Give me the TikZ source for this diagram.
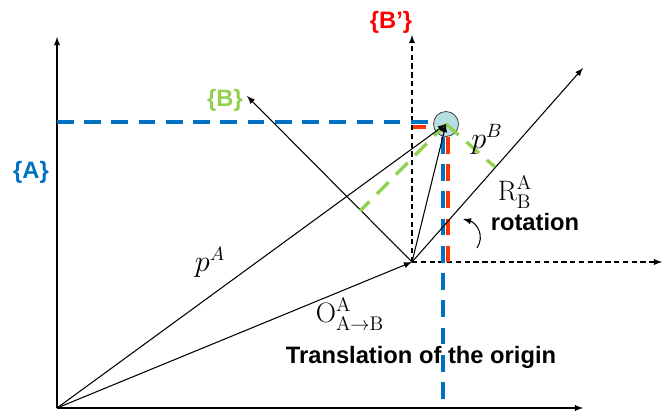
\documentclass[tikz,border=0pt]{standalone}
\usepackage{fontspec}
\setsansfont{Liberation Sans}
\definecolor{frameblue}{HTML}{0070C0}
\definecolor{framegreen}{HTML}{92D050}
\definecolor{framered}{HTML}{FF0000}
\definecolor{projred}{HTML}{FF3300}
\definecolor{pointfill}{HTML}{B7DEE1}
\begin{document}
\begin{tikzpicture}[x=0.02cm, y=-0.02cm,
  every node/.style={font=\sffamily\bfseries},
  vec/.style={-latex, line width=0.6pt},
  ghostaxis/.style={-latex, line width=0.6pt, dash pattern=on 3pt off 2pt},
  projline/.style={line width=1.9pt, dash pattern=on 9.5pt off 6pt},
  framelabel/.style={font=\sffamily\bfseries\fontsize{13.5}{16}\selectfont},
  mathlabel/.style={font=\fontsize{16}{19}\selectfont}]
\useasboundingbox (0,0) rectangle (664,413);
% frame A
\coordinate (oA) at (57,408);
\coordinate (yA) at (57,37);
\coordinate (xA) at (583,408);
\draw[vec] (oA) -- (yA);
\draw[vec] (oA) -- (xA);
\node[framelabel, text=frameblue] (lblA) at (31,172) {\{A\}};
% frame B' (translated only)
\coordinate (oB) at (412,262);
\coordinate (yBp) at (412,35);
\coordinate (xBp) at (662,262);
\draw[ghostaxis] (oB) -- (yBp);
\draw[ghostaxis] (oB) -- (xBp);
\node[framelabel, text=framered] (lblBp) at (391,22) {\{B'\}};
% point
\node[circle, draw=black!80, fill=pointfill, minimum size=0.5cm, inner sep=0pt] (P) at (446,124) {};
% projections on A and B'
\draw[projline, frameblue] (yA |- 0,122) -- (434,122);
\draw[projline, frameblue] (443,137) -- (443,408);
\draw[projline, projred] (413,127) -- (426,127);
\draw[projline, projred] (448,137) -- (448,262);
% frame B (rotated)
\coordinate (yB) at (247,96);
\coordinate (xB) at (583,68);
\draw[vec] (oB) -- (yB);
\draw[vec] (oB) -- (xB);
\node[framelabel, text=framegreen] (lblB) at (225,100) {\{B\}};
\coordinate (footY) at (360,211);
\coordinate (footX) at (495,167);
\draw[projline, framegreen] (P.center) -- (footY);
\draw[projline, framegreen] (P.center) -- (footX);
% vectors
\draw[vec] (oA) -- (oB);
\draw[vec] (oA) -- (P.center);
\draw[vec] (oB) -- (P.center);
\draw[-latex, line width=0.6pt] (477,248) .. controls (485,236) and (477,223) .. (463,219);
% labels
\node[mathlabel] (pA) at (210,262) {$p^A$};
\node[mathlabel] (pB) at (487,139) {$p^B$};
\node[mathlabel] (RAB) at (515,192) {$\mathrm{R}^{\mathrm{A}}_{\mathrm{B}}$};
\node[framelabel] (rot) at (535,222) {rotation};
\node[mathlabel, inner sep=1pt] (OAB) at (350,314) {$\mathrm{O}^{\mathrm{A}}_{\mathrm{A}\rightarrow\mathrm{B}}$};
\node[framelabel, inner sep=1pt] (transl) at (421,357) {Translation of the origin};
\end{tikzpicture}
\end{document}
